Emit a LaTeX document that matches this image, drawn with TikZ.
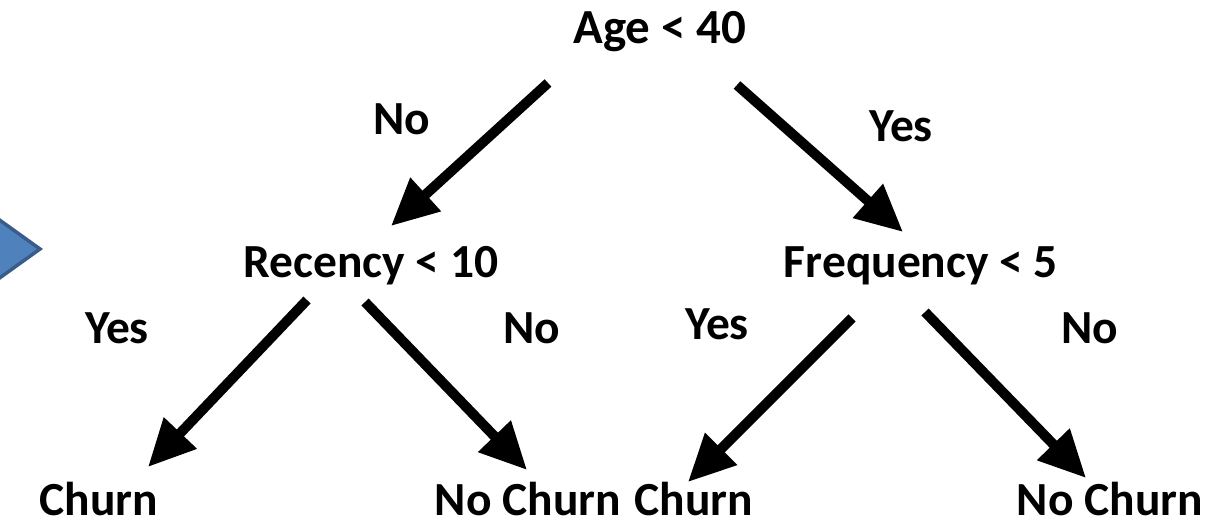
\documentclass[tikz,border=0pt]{standalone}
\usepackage{fontspec}
\setmainfont{Carlito}
\usetikzlibrary{arrows.meta}
\definecolor{shapefill}{HTML}{4F81BD}
\definecolor{shapeline}{HTML}{385D8A}
\tikzset{
  lbl/.style={anchor=base,inner sep=0pt,font=\bfseries\fontsize{47.5}{52}\selectfont},
  big/.style={lbl,font=\bfseries\fontsize{49}{53}\selectfont},
  branch/.style={line width=10pt,-{Triangle[length=47pt,width=43pt]}}
}
\begin{document}
\begin{tikzpicture}[x=1pt,y=-1pt]
\path[use as bounding box] (0,0) rectangle (1218,525);
\begin{scope}
\clip (0,0) rectangle (1218,525);
% partial blue arrow shape on the left
\filldraw[fill=shapefill,draw=shapeline,line width=3.5pt,line join=miter]
  (-20,206) -- (40,249) -- (-20,292) -- cycle;
\end{scope}
% tree labels
\node[big] (age) at (660,43) {Age < 40};
\node[lbl] (rec) at (371,277) {Recency < 10};
\node[lbl] (freq) at (921,277) {Frequency < 5};
\node[lbl] (noA) at (402,134) {No};
\node[lbl] (yesA) at (901,141) {Yes};
\node[lbl] (yesB) at (117,343) {Yes};
\node[lbl] (noB) at (532,343) {No};
\node[lbl] (yesC) at (717,339) {Yes};
\node[lbl] (noC) at (1090,343) {No};
\node[lbl] (churnA) at (99,515) {Churn};
\node[lbl] (nochurnA) at (528,515) {No Churn};
\node[lbl] (churnB) at (694,515) {Churn};
\node[lbl] (nochurnB) at (1110,515) {No Churn};
% arrow end points
\coordinate (a1s) at (548,83);  \coordinate (a1e) at (391,226);
\coordinate (a2s) at (737,85);  \coordinate (a2e) at (903,232);
\coordinate (a3s) at (307,300); \coordinate (a3e) at (148,467);
\coordinate (a4s) at (365,302); \coordinate (a4e) at (527,470);
\coordinate (a5s) at (852,318); \coordinate (a5e) at (688,482);
\coordinate (a6s) at (925,312); \coordinate (a6e) at (1086,478);
\draw[branch] (a1s) -- (a1e);
\draw[branch] (a2s) -- (a2e);
\draw[branch] (a3s) -- (a3e);
\draw[branch] (a4s) -- (a4e);
\draw[branch] (a5s) -- (a5e);
\draw[branch] (a6s) -- (a6e);
\end{tikzpicture}
\end{document}
